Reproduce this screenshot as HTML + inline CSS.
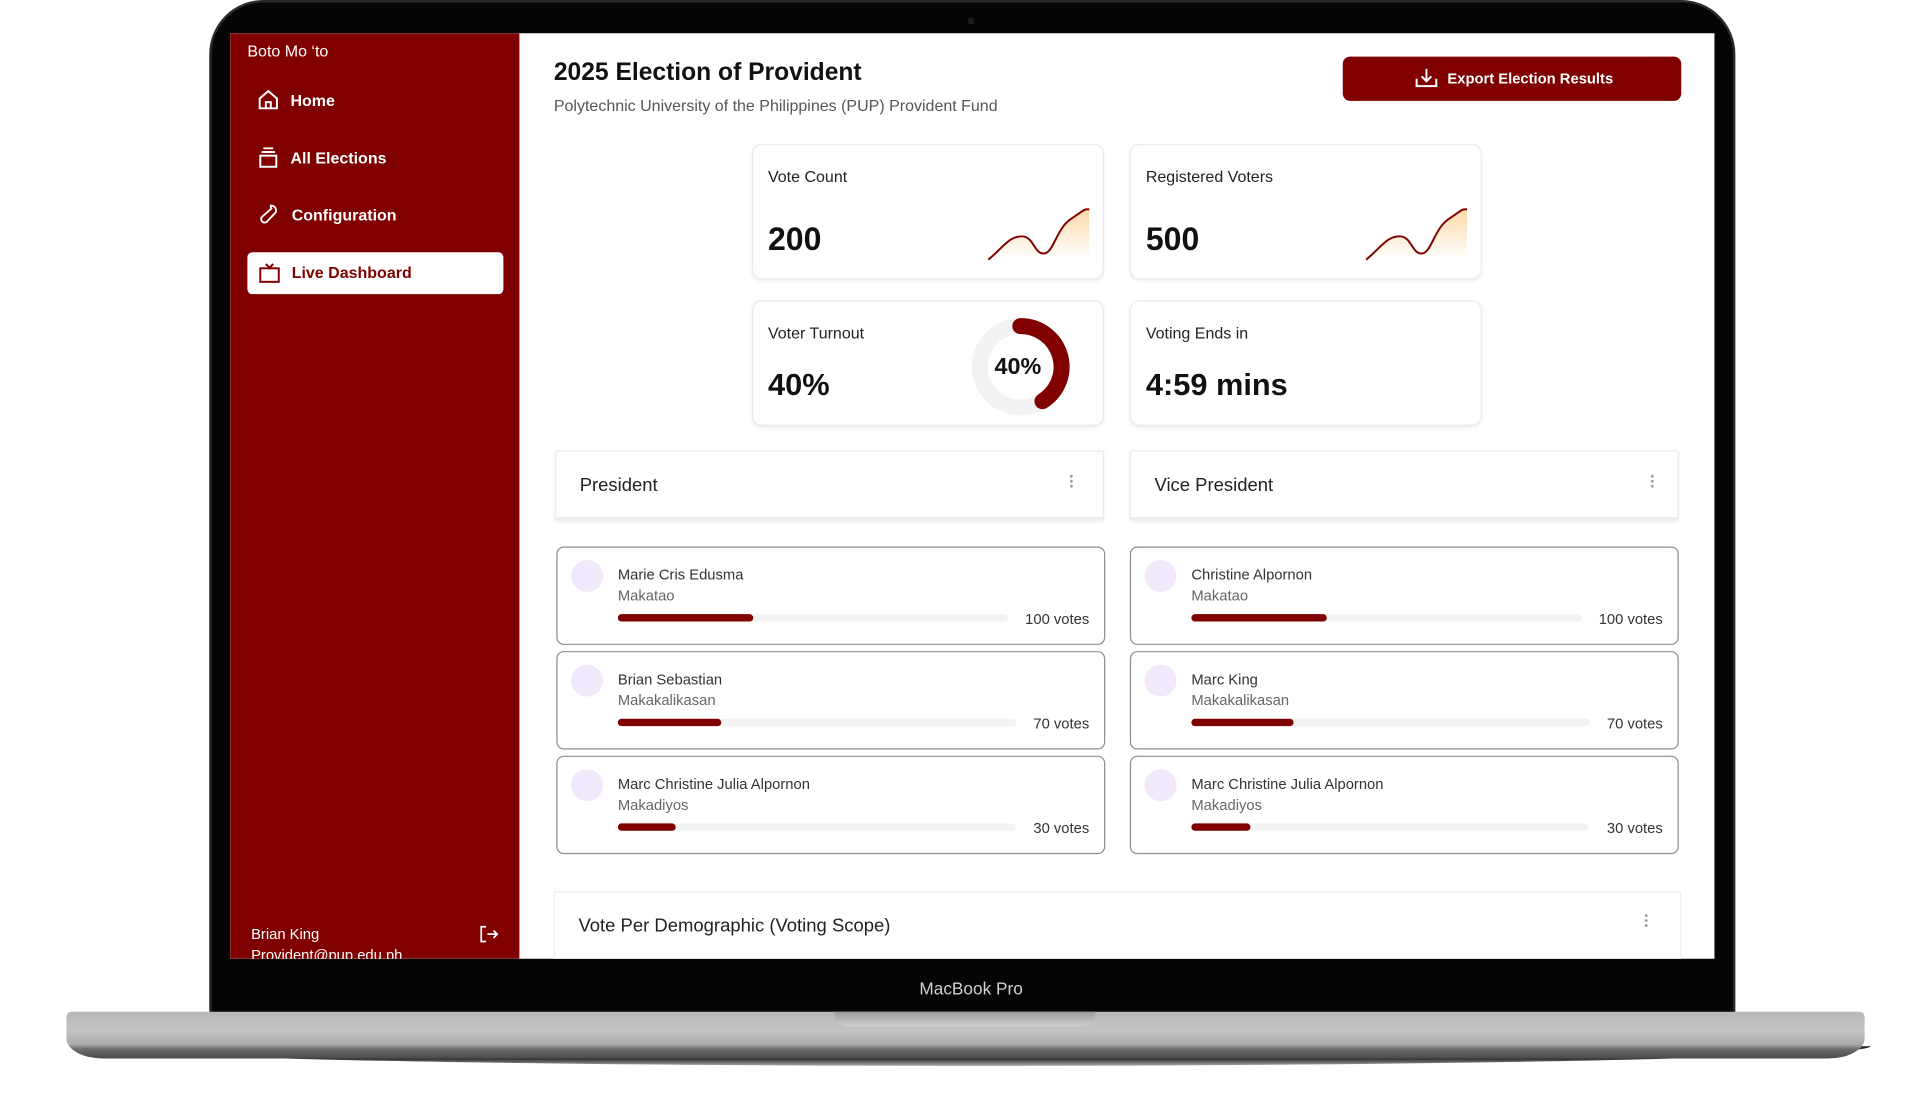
<!DOCTYPE html>
<html><head><meta charset="utf-8"><style>
*{box-sizing:border-box;margin:0;padding:0}
html,body{width:1920px;height:1107px;overflow:hidden;background:#fff;font-family:"Liberation Sans",sans-serif}
#w{position:absolute;left:0;top:0;width:1560px;height:900px;transform:scale(1.230769);transform-origin:0 0}
.a{position:absolute}
.t{position:absolute;white-space:nowrap;line-height:1}
.card{position:absolute;background:#fff;border:1px solid #ececec;border-radius:8px;box-shadow:0 1px 3px rgba(0,0,0,.08)}
.cand{position:absolute;background:#fff;border:1.5px solid #8e8e8e;border-radius:6px;width:446px;height:80px}
.av{position:absolute;left:11px;top:10px;width:26px;height:26px;border-radius:50%;background:#f1e9fb}
.nm{position:absolute;left:49px;top:15px;font-size:12px;color:#333}
.pt{position:absolute;left:49px;top:32px;font-size:12px;color:#666}
.bar{position:absolute;left:49px;top:54px;height:6px;border-radius:3px;background:#f3f3f3}
.fill{position:absolute;left:0;top:0;height:6px;border-radius:3px;background:#800000}
.vt{position:absolute;right:12px;top:51px;font-size:12px;color:#333}
.dots{position:absolute;width:3px;height:12px;background:radial-gradient(circle,#999 1px,transparent 1.3px) 0 0/3px 4px}
</style></head><body><div id="w">
<!-- base shadow -->
<div class="a" style="left:70px;top:850px;width:1450px;height:16px;background:linear-gradient(#333,#000 50%,#aaa);border-radius:0 0 50% 50%/0 0 100% 100%"></div>
<!-- lid -->
<div class="a" style="left:170px;top:0;width:1240px;height:830px;background:#050505;border-radius:44px 44px 0 0;border:2px solid #2a2a2a"></div>
<div class="a" style="left:786px;top:14px;width:6px;height:6px;border-radius:50%;background:#1a1a1a"></div>
<!-- base -->
<div class="a" style="left:54px;top:822px;width:1461px;height:38px;background:linear-gradient(#b8b8b8,#c4c4c4 40%,#a9a9a9 70%,#6d6d6d 80%,#4a4a4a);border-radius:4px 4px 30px 30px/4px 4px 16px 16px"></div>
<div class="a" style="left:678px;top:822px;width:212px;height:12px;background:linear-gradient(#9a9a9a,#cfcfcf);border-radius:0 0 10px 10px"></div>
<div class="t" style="left:747px;top:796px;font-size:14px;color:#d0d0d0">MacBook Pro</div>
<!-- screen -->
<div class="a" style="left:187px;top:27px;width:1206px;height:752px;background:#fff;overflow:hidden">
 <div class="a" style="left:0;top:0;width:235px;height:752px;background:#800000"></div>
 <div class="t" style="left:14px;top:8px;font-size:13px;color:#fff">Boto Mo ‘to</div>
 <svg class="a" style="left:22px;top:45px" width="18" height="18" viewBox="0 0 18 18" fill="none" stroke="#fff" stroke-width="1.6"><path d="M2 8L9 2l7 6v8H2z"/><path d="M7 16v-5h4v5"/></svg>
 <div class="t" style="left:49px;top:48px;font-size:13px;color:#fff;font-weight:bold">Home</div>
 <svg class="a" style="left:22px;top:92px" width="18" height="18" viewBox="0 0 18 18" fill="none" stroke="#fff" stroke-width="1.6"><path d="M5 1.5h8M3.5 4.5h11"/><rect x="2.5" y="7.5" width="13" height="9"/></svg>
 <div class="t" style="left:49px;top:95px;font-size:13px;color:#fff;font-weight:bold">All Elections</div>
 <svg class="a" style="left:22px;top:138px" width="18" height="18" viewBox="0 0 18 18" fill="none" stroke="#fff" stroke-width="1.5"><path d="M11 2a4 4 0 0 1 4 5.5L8 15a2 2 0 0 1-4-4l7.5-6.5A4 4 0 0 1 11 2z"/></svg>
 <div class="t" style="left:50px;top:141px;font-size:13px;color:#fff;font-weight:bold">Configuration</div>
 <div class="a" style="left:14px;top:178px;width:208px;height:34px;background:#fff;border-radius:4px"></div>
 <svg class="a" style="left:23px;top:186px" width="18" height="18" viewBox="0 0 18 18" fill="none" stroke="#800000" stroke-width="1.6"><rect x="1.5" y="5" width="15" height="11"/><path d="M6 1.5l3 3 3-3"/></svg>
 <div class="t" style="left:50px;top:188px;font-size:13px;color:#800000;font-weight:bold">Live Dashboard</div>
 <div class="t" style="left:17px;top:726px;font-size:12px;color:#fff">Brian King</div>
 <div class="t" style="left:17px;top:743px;font-size:12px;color:#fff">Provident@pup.edu.ph</div>
 <svg class="a" style="left:202px;top:724px" width="16" height="16" viewBox="0 0 16 16" fill="none" stroke="#fff" stroke-width="1.4"><path d="M6 2H2v12h4M7 8h8M12 5l3 3-3 3"/></svg>

 <div class="t" style="left:263px;top:22px;font-size:20px;color:#111;font-weight:bold">2025 Election of Provident</div>
 <div class="t" style="left:263px;top:52px;font-size:13px;color:#555">Polytechnic University of the Philippines (PUP) Provident Fund</div>
 <div class="a" style="left:904px;top:19px;width:275px;height:36px;background:#800000;border-radius:6px"></div>
 <svg class="a" style="left:963px;top:28px" width="18" height="16" viewBox="0 0 18 16" fill="none" stroke="#fff" stroke-width="1.6"><path d="M1 9v6h16V9M9 1v10M5 7l4 4 4-4"/></svg>
 <div class="t" style="left:989px;top:31px;font-size:12px;color:#fff;font-weight:bold">Export Election Results</div>
</div>
<!-- stat cards (page coords) -->
<div class="card" style="left:611px;top:117px;width:286px;height:110px"></div>
<div class="t" style="left:624px;top:137px;font-size:13px;color:#222">Vote Count</div>
<div class="t" style="left:624px;top:181px;font-size:26px;color:#111;font-weight:bold">200</div>
<svg class="a" style="left:800px;top:166px" width="86" height="48" viewBox="0 0 86 48"><defs><linearGradient id="g" x1="0" y1="0" x2="0" y2="1"><stop offset="0" stop-color="#fcd9a8"/><stop offset="1" stop-color="#fff"/></linearGradient></defs><path d="M3 45C15 35 20 26 30 26S40 40 48 40 58 20 70 12 80 4 85 4V45z" fill="url(#g)"/><path d="M3 45C15 35 20 26 30 26S40 40 48 40 58 20 70 12 80 4 85 4" fill="none" stroke="#800000" stroke-width="1.6"/></svg>
<div class="card" style="left:918px;top:117px;width:286px;height:110px"></div>
<div class="t" style="left:931px;top:137px;font-size:13px;color:#222">Registered Voters</div>
<div class="t" style="left:931px;top:181px;font-size:26px;color:#111;font-weight:bold">500</div>
<svg class="a" style="left:1107px;top:166px" width="86" height="48" viewBox="0 0 86 48"><path d="M3 45C15 35 20 26 30 26S40 40 48 40 58 20 70 12 80 4 85 4V45z" fill="url(#g)"/><path d="M3 45C15 35 20 26 30 26S40 40 48 40 58 20 70 12 80 4 85 4" fill="none" stroke="#800000" stroke-width="1.6"/></svg>
<div class="card" style="left:611px;top:244px;width:286px;height:102px"></div>
<div class="t" style="left:624px;top:264px;font-size:13px;color:#222">Voter Turnout</div>
<div class="t" style="left:624px;top:301px;font-size:25px;color:#111;font-weight:bold">40%</div>
<svg class="a" style="left:787px;top:256px" width="84" height="84" viewBox="0 0 84 84"><circle cx="42" cy="42" r="33" fill="none" stroke="#f3f3f3" stroke-width="13"/><path d="M42 9A33 33 0 0 1 60 70" fill="none" stroke="#800000" stroke-width="13" stroke-linecap="round"/></svg>
<div class="t" style="left:808px;top:289px;font-size:19px;color:#111;font-weight:bold">40%</div>
<div class="card" style="left:918px;top:244px;width:286px;height:102px"></div>
<div class="t" style="left:931px;top:264px;font-size:13px;color:#222">Voting Ends in</div>
<div class="t" style="left:931px;top:301px;font-size:25px;color:#111;font-weight:bold">4:59 mins</div>
<!-- headers -->
<div class="card" style="left:451px;top:366px;width:446px;height:57px;border-radius:2px;border-bottom:3px solid #eee"></div>
<div class="t" style="left:471px;top:387px;font-size:15px;color:#222">President</div>
<div class="dots" style="left:869px;top:385px"></div>
<div class="card" style="left:918px;top:366px;width:446px;height:57px;border-radius:2px;border-bottom:3px solid #eee"></div>
<div class="t" style="left:938px;top:387px;font-size:15px;color:#222">Vice President</div>
<div class="dots" style="left:1341px;top:385px"></div>
<!-- candidates -->
<div class="cand" style="left:452px;top:444px"><div class="av"></div><div class="nm">Marie Cris Edusma</div><div class="pt">Makatao</div><div class="bar" style="width:317px"><div class="fill" style="width:110px"></div></div><div class="vt">100 votes</div></div>
<div class="cand" style="left:452px;top:529px"><div class="av"></div><div class="nm">Brian Sebastian</div><div class="pt">Makakalikasan</div><div class="bar" style="width:324px"><div class="fill" style="width:84px"></div></div><div class="vt">70 votes</div></div>
<div class="cand" style="left:452px;top:614px"><div class="av"></div><div class="nm">Marc Christine Julia Alpornon</div><div class="pt">Makadiyos</div><div class="bar" style="width:323px"><div class="fill" style="width:47px"></div></div><div class="vt">30 votes</div></div>
<div class="cand" style="left:918px;top:444px"><div class="av"></div><div class="nm">Christine Alpornon</div><div class="pt">Makatao</div><div class="bar" style="width:317px"><div class="fill" style="width:110px"></div></div><div class="vt">100 votes</div></div>
<div class="cand" style="left:918px;top:529px"><div class="av"></div><div class="nm">Marc King</div><div class="pt">Makakalikasan</div><div class="bar" style="width:324px"><div class="fill" style="width:83px"></div></div><div class="vt">70 votes</div></div>
<div class="cand" style="left:918px;top:614px"><div class="av"></div><div class="nm">Marc Christine Julia Alpornon</div><div class="pt">Makadiyos</div><div class="bar" style="width:323px"><div class="fill" style="width:48px"></div></div><div class="vt">30 votes</div></div>
<!-- demographic -->
<div class="a" style="left:450px;top:724px;width:916px;height:55px;background:#fff;border:1px solid #f0f0f0;border-bottom:none"></div>
<div class="t" style="left:470px;top:745px;font-size:15px;color:#222">Vote Per Demographic (Voting Scope)</div>
<div class="dots" style="left:1336px;top:742px"></div>
</div></body></html>
